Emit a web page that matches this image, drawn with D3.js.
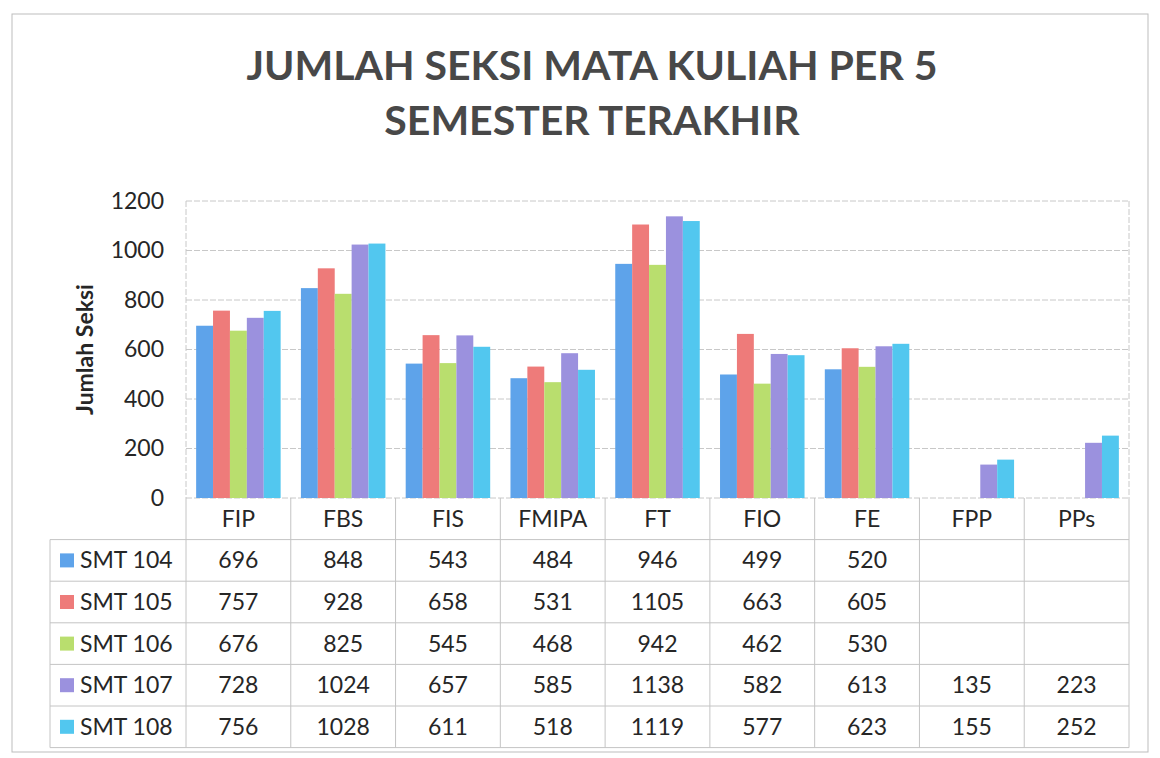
<!DOCTYPE html>
<html>
<head>
<meta charset="utf-8">
<script src="https://cdn.jsdelivr.net/npm/d3@7"></script>
<style>
  body { margin: 0; background: #fff; }
  svg text { font-family: Lato, "Open Sans", sans-serif; fill: #262626; }
</style>
</head>
<body>
<div id="container"></div>
<script>
// Data
const categories = ['FIP', 'FBS', 'FIS', 'FMIPA', 'FT', 'FIO', 'FE', 'FPP', 'PPs'];
const seriesNames = ['SMT 104', 'SMT 105', 'SMT 106', 'SMT 107', 'SMT 108'];
const smt104 = [696, 848, 543, 484, 946, 499, 520, null, null];
const smt105 = [757, 928, 658, 531, 1105, 663, 605, null, null];
const smt106 = [676, 825, 545, 468, 942, 462, 530, null, null];
const smt107 = [728, 1024, 657, 585, 1138, 582, 613, 135, 223];
const smt108 = [756, 1028, 611, 518, 1119, 577, 623, 155, 252];
const yTicks = [0, 200, 400, 600, 800, 1000, 1200];

const seriesValues = [smt104, smt105, smt106, smt107, smt108];
const colors = ['#5ea3ea', '#ee7b7a', '#b9de6e', '#9b91de', '#52c7ef'];

const width = 1160;
const height = 758;

// plot area
const plot = { left: 186, right: 1129, top: 201, bottom: 498 };
const rowH = 41.6;
const tableLeft = 50;

const svg = d3.select('#container').append('svg')
    .attr('width', width)
    .attr('height', height);

// outer frame
svg.append('rect')
    .attr('x', 12).attr('y', 14)
    .attr('width', 1136).attr('height', 738)
    .attr('fill', 'none')
    .attr('stroke', '#bdbdbd');

// Title
const titleLines = ['JUMLAH SEKSI MATA KULIAH PER 5', 'SEMESTER TERAKHIR'];
svg.selectAll('text.title')
    .data(titleLines)
    .enter().append('text')
    .attr('class', 'title')
    .attr('x', 592)
    .attr('y', (d, i) => 80 + i * 55)
    .attr('text-anchor', 'middle')
    .style('font-size', '41px').style('font-weight', 'bold').style('fill', '#484848')
    .text(d => d);

// Scales
const xScale = d3.scaleBand()
    .domain(categories)
    .range([plot.left, plot.right]);

const xInner = d3.scaleBand()
    .domain(seriesNames)
    .range([0, xScale.bandwidth()])
    .paddingOuter(0.6);

const yScale = d3.scaleLinear()
    .domain([0, 1200])
    .range([plot.bottom, plot.top]);

// gridlines
svg.append('g')
    .selectAll('line')
    .data(yTicks)
    .enter().append('line')
    .attr('x1', plot.left).attr('x2', plot.right)
    .attr('y1', d => yScale(d)).attr('y2', d => yScale(d))
    .attr('stroke', '#c8c8c8')
    .attr('stroke-dasharray', '6,2');

// plot frame left/right
[plot.left, plot.right].forEach(x => {
    svg.append('line')
        .attr('x1', x).attr('x2', x)
        .attr('y1', plot.top).attr('y2', plot.bottom)
        .attr('stroke', '#c8c8c8').attr('stroke-dasharray', '6,2');
});

// Y axis
const yAxis = svg.append('g')
    .attr('transform', 'translate(' + plot.left + ',0)')
    .call(d3.axisLeft(yScale).tickValues(yTicks).tickFormat(d3.format('d')).tickSize(0).tickPadding(22));
yAxis.select('.domain').remove();
yAxis.selectAll('text')
    .style('font-size', '23px')
    .style('font-family', 'Lato, sans-serif')
    .attr('fill', '#262626');

// Y axis label
svg.append('text')
    .attr('transform', 'rotate(-90)')
    .attr('x', -(plot.top + plot.bottom) / 2)
    .attr('y', 93)
    .attr('text-anchor', 'middle')
    .style('font-size', '23px').style('font-weight', 'bold')
    .text('Jumlah Seksi');

// Bars
const barData = [];
seriesValues.forEach((vals, s) => {
    vals.forEach((v, c) => {
        if (v !== null) barData.push({ cat: categories[c], series: seriesNames[s], value: v, color: colors[s] });
    });
});

svg.append('g')
    .selectAll('rect')
    .data(barData)
    .enter().append('rect')
    .attr('x', d => xScale(d.cat) + xInner(d.series))
    .attr('y', d => yScale(d.value))
    .attr('width', xInner.bandwidth())
    .attr('height', d => plot.bottom - yScale(d.value))
    .attr('fill', d => d.color);

// Data table
const table = svg.append('g');
const gridColor = '#c4c4c4';
const tableBottom = plot.bottom + rowH * 6;

// header row: category labels
table.selectAll('text.cat')
    .data(categories)
    .enter().append('text')
    .attr('class', 'cat')
    .attr('x', d => xScale(d) + xScale.bandwidth() / 2)
    .attr('y', plot.bottom + rowH / 2 + 8)
    .attr('text-anchor', 'middle')
    .style('font-size', '23px')
    .text(d => d);

// vertical lines for each category column
table.selectAll('line.col')
    .data(d3.range(categories.length + 1))
    .enter().append('line')
    .attr('x1', i => plot.left + i * xScale.bandwidth())
    .attr('x2', i => plot.left + i * xScale.bandwidth())
    .attr('y1', plot.bottom).attr('y2', tableBottom)
    .attr('stroke', gridColor);

// left edge of legend column
table.append('line')
    .attr('x1', tableLeft).attr('x2', tableLeft)
    .attr('y1', plot.bottom + rowH).attr('y2', tableBottom)
    .attr('stroke', gridColor);

// horizontal lines
table.selectAll('line.row')
    .data(d3.range(1, 7))
    .enter().append('line')
    .attr('x1', tableLeft).attr('x2', plot.right)
    .attr('y1', d => plot.bottom + d * rowH)
    .attr('y2', d => plot.bottom + d * rowH)
    .attr('stroke', gridColor);

// legend keys and values
seriesNames.forEach((name, s) => {
    const rowY = plot.bottom + (s + 1) * rowH;
    table.append('rect')
        .attr('x', 60).attr('y', rowY + rowH / 2 - 7)
        .attr('width', 14).attr('height', 14)
        .attr('fill', colors[s]);
    table.append('text')
        .attr('x', 80).attr('y', rowY + rowH / 2 + 8)
        .style('font-size', '23px')
        .text(name);
    table.selectAll('text.v' + s)
        .data(seriesValues[s])
        .enter().append('text')
        .attr('class', 'v' + s)
        .attr('x', (d, i) => xScale(categories[i]) + xScale.bandwidth() / 2)
        .attr('y', rowY + rowH / 2 + 8)
        .attr('text-anchor', 'middle')
        .style('font-size', '23px')
        .text(d => d === null ? '' : d);
});
</script>
</body>
</html>
